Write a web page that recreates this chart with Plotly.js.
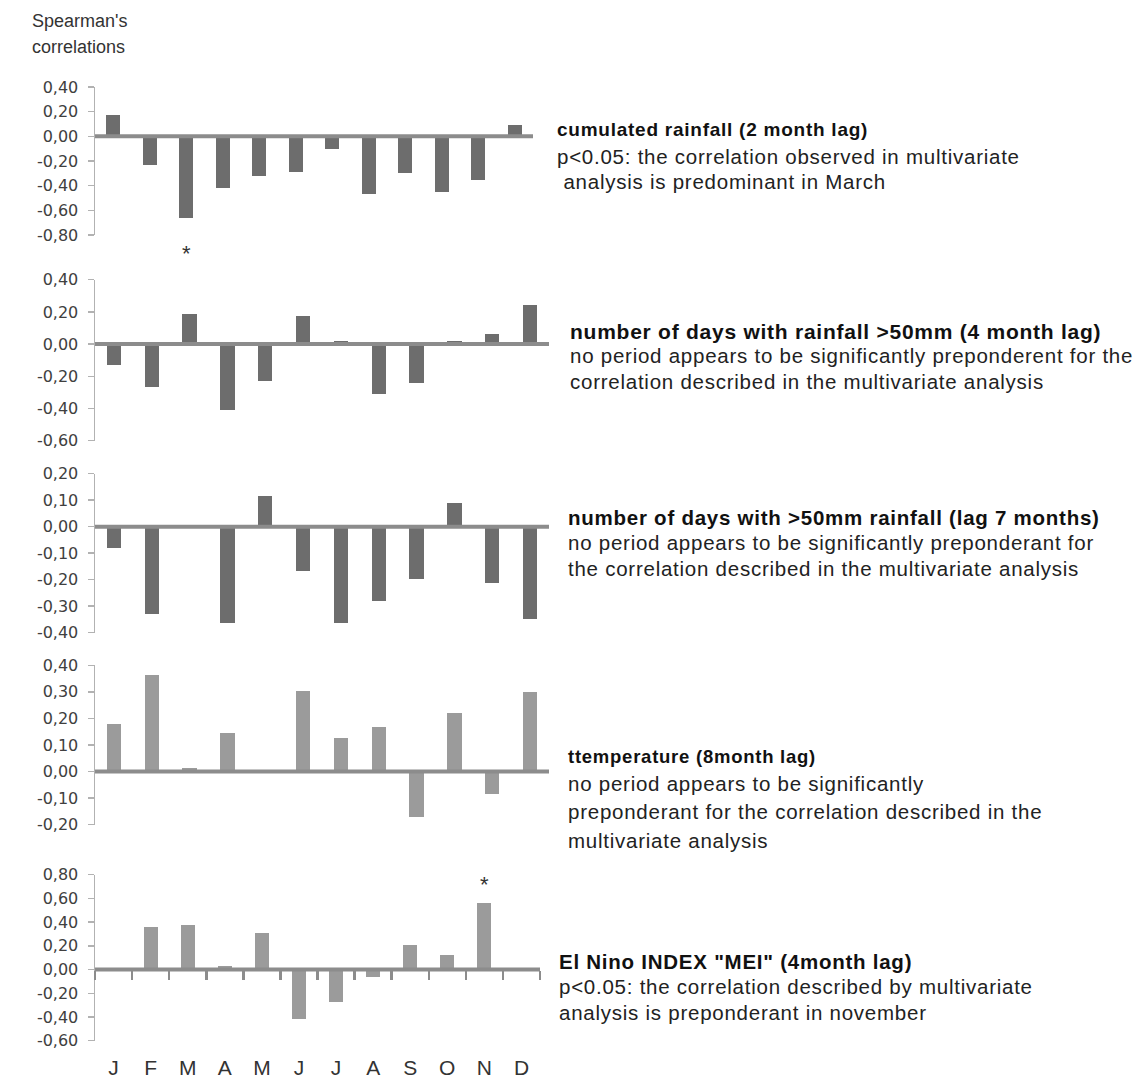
<!DOCTYPE html>
<html>
<head>
<meta charset="utf-8">
<script src="https://cdn.plot.ly/plotly-3.0.1.min.js"></script>
<style>html,body{margin:0;padding:0;background:#fff;}#chart{width:1138px;height:1081px;}</style>
</head>
<body>
<div id="chart"></div>
<script>
// ---------- data ----------
const months = ['J','F','M','A','M','J','J','A','S','O','N','D'];
const rainfall2 = [0.17, -0.23, -0.66, -0.42, -0.32, -0.29, -0.10, -0.47, -0.30, -0.45, -0.35, 0.09];
const days50lag4 = [-0.13, -0.265, 0.19, -0.41, -0.23, 0.175, 0.02, -0.31, -0.24, 0.02, 0.065, 0.24];
const days50lag7 = [-0.08, -0.33, 0, -0.365, 0.116, -0.168, -0.362, -0.28, -0.197, 0.088, -0.214, -0.348];
const temperature8 = [0.179, 0.365, 0.015, 0.144, 0, 0.303, 0.127, 0.169, -0.17, 0.222, -0.085, 0.30];
const meiLag4 = [-0.015, 0.355, 0.376, 0.03, 0.31, -0.42, -0.27, -0.06, 0.21, 0.12, 0.565, 0];

const ticks1 = [0.4, 0.2, 0, -0.2, -0.4, -0.6, -0.8];
const ticks2 = [0.4, 0.2, 0, -0.2, -0.4, -0.6];
const ticks3 = [0.2, 0.1, 0, -0.1, -0.2, -0.3, -0.4];
const ticks4 = [0.4, 0.3, 0.2, 0.1, 0, -0.1, -0.2];
const ticks5 = [0.8, 0.6, 0.4, 0.2, 0, -0.2, -0.4, -0.6];

const titles = [
  'cumulated rainfall (2 month lag)',
  'number of days with rainfall >50mm (4 month lag)',
  'number of days with >50mm rainfall (lag 7 months)',
  'ttemperature (8month lag)',
  'El Nino INDEX "MEI" (4month lag)'
];
const notes = [
  ['p<0.05: the correlation observed in multivariate', '\u00a0analysis is predominant in March'],
  ['no period appears to be significantly preponderent for the', 'correlation described in the multivariate analysis'],
  ['no period appears to be significantly preponderant for', 'the correlation described in the multivariate analysis'],
  ['no period appears to be significantly', 'preponderant for the correlation described in the', 'multivariate analysis'],
  ['p<0.05: the correlation described by multivariate', 'analysis is preponderant in november']
];

// ---------- layout helpers ----------
const W = 1138, H = 1081;
const fx = p => p / W;
const fy = p => 1 - p / H;
const fmt = v => v.toFixed(2).replace('.', ',');

const dark = '#6d6d6d', light = '#9b9b9b';
const panels = [
  {vals: rainfall2,    ticks: ticks1, x: [95, 533], y: [87, 235],      color: dark,
   text: {x: 555, ys: [129.5, 156.5, 182], titleSize: 19}},
  {vals: days50lag4,   ticks: ticks2, x: [95, 549], y: [279.7, 440.7], color: dark,
   text: {x: 568, ys: [331, 355.5, 381.5], titleSize: 21}},
  {vals: days50lag7,   ticks: ticks3, x: [95, 549], y: [473.7, 632.7], color: dark,
   text: {x: 566, ys: [517.5, 542.5, 568], titleSize: 20.5}},
  {vals: temperature8, ticks: ticks4, x: [95, 549], y: [665.3, 824.7], color: light,
   text: {x: 566, ys: [756, 783, 811.5, 840], titleSize: 18.5}},
  {vals: meiLag4,      ticks: ticks5, x: [95, 540], y: [874.7, 1040.7], color: light,
   text: {x: 557, ys: [961, 986, 1012], titleSize: 20.5}}
];

const textFont = 'Liberation Sans, Arial, sans-serif';
const spaced = t => '<span style="letter-spacing:0.75px">' + t + '</span>';
const data = [];
const layout = {
  width: W, height: H,
  margin: {l: 0, r: 0, t: 0, b: 0},
  paper_bgcolor: '#fff', plot_bgcolor: 'rgba(0,0,0,0)',
  showlegend: false,
  bargap: 0,
  shapes: [],
  annotations: []
};

panels.forEach((p, i) => {
  const n = i + 1;
  const xa = 'x' + (n === 1 ? '' : n), ya = 'y' + (n === 1 ? '' : n);
  const xk = 'xaxis' + (n === 1 ? '' : n), yk = 'yaxis' + (n === 1 ? '' : n);
  data.push({
    type: 'bar',
    x: months.map((m, k) => k),
    y: p.vals,
    width: 0.38,
    marker: {color: p.color, line: {width: 0}},
    xaxis: xa, yaxis: ya,
    hoverinfo: 'skip'
  });
  const yr = [Math.min(...p.ticks), Math.max(...p.ticks)];
  layout[xk] = {
    domain: [fx(p.x[0]), fx(p.x[1])],
    anchor: ya,
    range: [-0.5, 11.5],
    fixedrange: true,
    showgrid: false, zeroline: false, showline: false,
    ticks: '', showticklabels: false
  };
  layout[yk] = {
    domain: [fy(p.y[1]), fy(p.y[0])],
    anchor: xa,
    range: yr,
    fixedrange: true,
    showgrid: false, zeroline: false,
    showline: true, linecolor: '#b2b2b2', linewidth: 1.5,
    ticks: 'outside', ticklen: 6, tickwidth: 1.5, tickcolor: '#b2b2b2',
    tickvals: p.ticks, ticktext: p.ticks.map(fmt),
    tickfont: {family: 'DejaVu Sans, sans-serif', size: 16, color: '#404040'},
    ticklabelstandoff: 6
  };
  // thick category baseline at zero
  layout.shapes.push({
    type: 'line', xref: xa + ' domain', yref: ya,
    x0: 0, x1: 1, y0: 0, y1: 0,
    line: {color: '#8c8c8c', width: 4}, layer: 'above'
  });
  // text block
  const lines = [titles[i]].concat(notes[i]);
  lines.forEach((t, k) => {
    layout.annotations.push({
      xref: 'paper', yref: 'paper',
      x: fx(p.text.x), y: fy(p.text.ys[k]),
      xanchor: 'left', yanchor: 'middle',
      text: k === 0 ? '<b>' + spaced(t) + '</b>' : spaced(t),
      showarrow: false,
      font: {family: textFont, size: k === 0 ? p.text.titleSize : 20.5, color: k === 0 ? '#111' : '#222'}
    });
  });
});

// month labels on bottom panel
Object.assign(layout.xaxis5, {
  showticklabels: true,
  tickvals: months.map((m, k) => k),
  ticktext: months,
  tickfont: {family: textFont, size: 21, color: '#333'},
  ticklabelstandoff: 12
});
// boundary tick marks on the zero line of bottom panel
layout.xaxis6 = {
  overlaying: 'x5', anchor: 'free',
  position: fy(874.7 + (0.8 / 1.4) * (1040.7 - 874.7)),
  domain: layout.xaxis5.domain,
  range: [-0.5, 11.5], fixedrange: true,
  showgrid: false, zeroline: false, showline: false,
  tickvals: months.map((m, k) => k - 0.5).concat([11.5]),
  ticks: 'outside', ticklen: 9, tickwidth: 2.5, tickcolor: '#8c8c8c',
  showticklabels: false
};
data.push({
  type: 'scatter', mode: 'markers', x: [0], y: [0],
  marker: {opacity: 0, size: 1}, xaxis: 'x6', yaxis: 'y5', hoverinfo: 'skip'
});

// y-axis caption
layout.annotations.push(
  {xref: 'paper', yref: 'paper', x: fx(30), y: fy(21), xanchor: 'left', yanchor: 'middle',
   text: "Spearman's", showarrow: false, font: {family: textFont, size: 18, color: '#333'}},
  {xref: 'paper', yref: 'paper', x: fx(30), y: fy(47), xanchor: 'left', yanchor: 'middle',
   text: 'correlations', showarrow: false, font: {family: textFont, size: 18, color: '#333'}}
);
// significance stars
layout.annotations.push(
  {xref: 'x', yref: 'paper', x: 2, y: fy(253), yanchor: 'middle', text: '*', showarrow: false,
   font: {family: textFont, size: 22, color: '#333'}},
  {xref: 'x5', yref: 'y5', x: 10, y: 0.72, text: '*', showarrow: false,
   font: {family: textFont, size: 22, color: '#333'}}
);

Plotly.newPlot('chart', data, layout, {staticPlot: true, displayModeBar: false});
</script>
</body>
</html>
